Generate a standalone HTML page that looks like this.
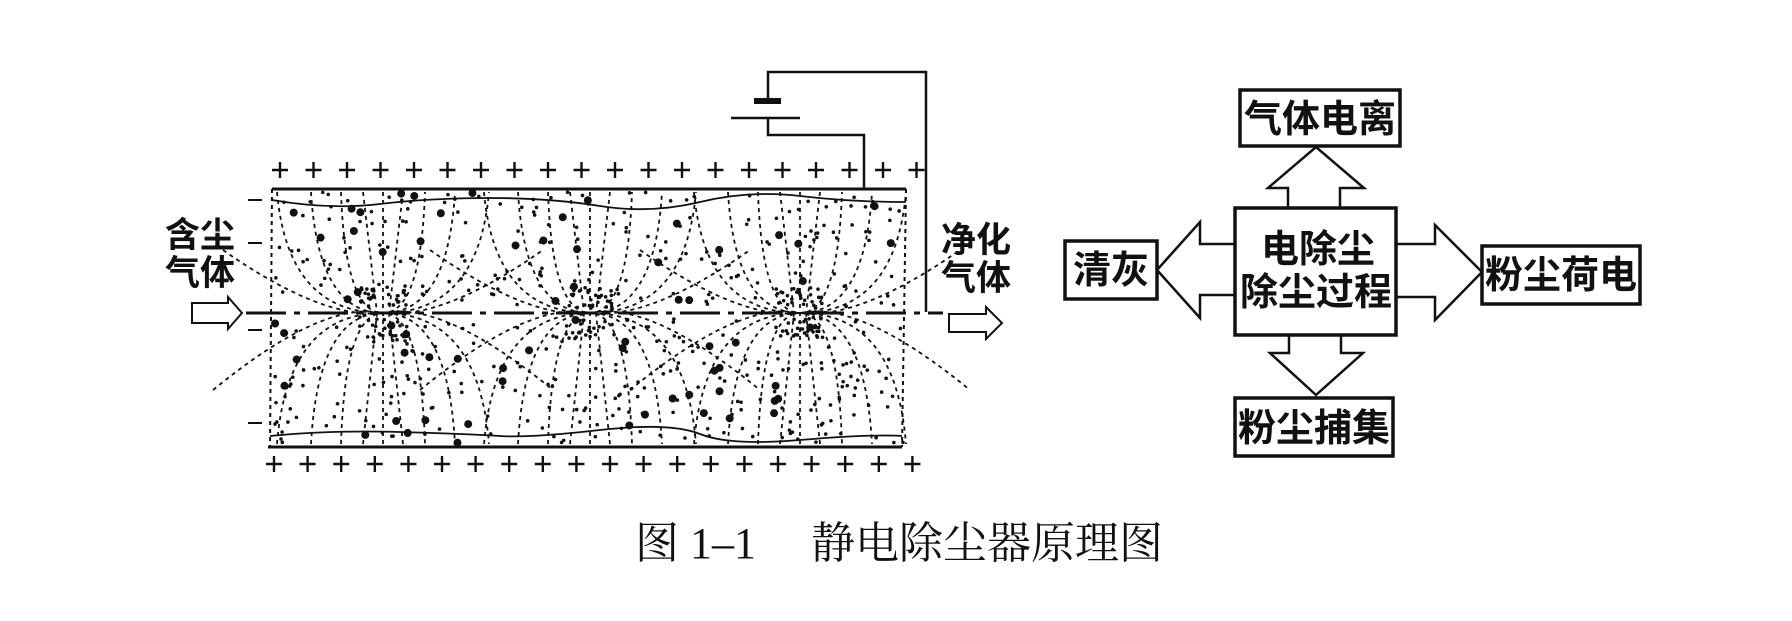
<!DOCTYPE html>
<html><head><meta charset="utf-8"><style>
html,body{margin:0;padding:0;background:#fff;}
svg{display:block;}
text{font-family:"Liberation Serif","Noto Serif CJK SC","Noto Sans CJK SC",serif;fill:#111;}
.b{font-family:"Liberation Sans","Noto Sans CJK SC",sans-serif;font-weight:bold;}
</style></head><body>
<svg id="s" width="1792" height="621" viewBox="0 0 1792 621" xmlns="http://www.w3.org/2000/svg">
<g stroke="#111" fill="none" stroke-width="2.5">
<polyline points="926,312 926,72 768,72 768,101"/>
<line x1="754" y1="101" x2="781" y2="101" stroke-width="6"/>
<line x1="731" y1="118" x2="800" y2="118"/>
<polyline points="768,118 768,135 864,135 864,190"/>
<line x1="272" y1="189" x2="906" y2="189" stroke-width="3"/>
<line x1="268" y1="447" x2="902" y2="447" stroke-width="3"/>
<line x1="272" y1="189" x2="270" y2="447" stroke-dasharray="4,4" stroke-width="2"/>
<line x1="906" y1="189" x2="902" y2="447" stroke-dasharray="4,4" stroke-width="2"/>
<path d="M272,200 Q330,210 380,204 T490,198 T600,206 T700,202 T800,196 T906,202" stroke-width="1.8"/>
<path d="M270,436 Q330,430 400,432 T500,436 T600,430 T700,434 T800,440 T902,436" stroke-width="1.8"/>
<line x1="246" y1="313" x2="943" y2="313" stroke-dasharray="40,8,6,8" stroke-width="3"/>
<polygon points="192,303 228,303 228,297 242,313 228,329 228,323 192,323" stroke-width="2"/>
<polygon points="949,314 986,314 986,307 1002,323 986,339 986,332 949,332" stroke-width="2"/>
</g>
<g id="curves" stroke="#111" fill="none" stroke-width="1.8" stroke-dasharray="4,4"></g>
<g id="dots" fill="#111"></g>
<g id="plus" stroke="#111" stroke-width="2.4"></g>
<g stroke="#111" stroke-width="2">
<line x1="248" y1="200" x2="262" y2="200"/><line x1="248" y1="243" x2="262" y2="243"/>
<line x1="248" y1="330" x2="262" y2="330"/><line x1="248" y1="423" x2="262" y2="423"/>
</g>
<g font-size="35" text-anchor="middle">
<text class="b" x="200" y="247">含尘</text>
<text class="b" x="200" y="285">气体</text>
<text class="b" x="976" y="252">净化</text>
<text class="b" x="976" y="290">气体</text>
</g>
<g stroke="#111" fill="#fff" stroke-width="3.5">
<rect x="1240" y="90" width="160" height="56"/>
<rect x="1235" y="208" width="161" height="127"/>
<rect x="1065" y="241" width="92" height="58"/>
<rect x="1482" y="246" width="158" height="58"/>
<rect x="1235" y="398" width="158" height="58"/>
</g>
<g stroke="#111" fill="none" stroke-width="2.5">
<polyline points="1288,208 1288,188 1268,188 1316,147 1364,188 1340,188 1340,208"/>
<polyline points="1235,244 1200,244 1200,222 1157,270 1200,318 1200,295 1235,295"/>
<polyline points="1396,244 1435,244 1435,225 1482,272 1435,320 1435,297 1396,297"/>
<polyline points="1289,335 1289,353 1270,353 1316,395 1363,353 1341,353 1341,335"/>
</g>
<g font-size="38" text-anchor="middle">
<text class="b" x="1320" y="132">气体电离</text>
<text class="b" x="1111" y="283">清灰</text>
<text class="b" x="1561" y="288">粉尘荷电</text>
<text class="b" x="1314" y="441">粉尘捕集</text>
<text class="b" x="1318" y="262">电除尘</text>
<text class="b" x="1316" y="305">除尘过程</text>
</g>
<text x="899" y="558" font-size="44" text-anchor="middle">图 1–1　 静电除尘器原理图</text>
<script>
var ns="http://www.w3.org/2000/svg";
var P=document.getElementById('plus'),C=document.getElementById('curves'),D=document.getElementById('dots');
function plus(x,y){var a=document.createElementNS(ns,'path');a.setAttribute('d','M'+(x-8)+','+y+'h16M'+x+','+(y-8)+'v16');P.appendChild(a);}
for(var i=0;i<20;i++){plus(280+i*33.5,170);plus(274+i*33.6,464);}
var cx=[383,590,800];
function path(d){var p=document.createElementNS(ns,'path');p.setAttribute('d',d);C.appendChild(p);}
cx.forEach(function(c){
 [106,72,42].forEach(function(w){
  path('M'+(c-w)+',192 Q'+(c-w*0.9)+',313 '+c+',313 Q'+(c+w*0.9)+',313 '+(c+w)+',192');
  path('M'+(c-w)+',444 Q'+(c-w*0.9)+',313 '+c+',313 Q'+(c+w*0.9)+',313 '+(c+w)+',444');
 });
 [-20,0,20].forEach(function(o){path('M'+(c+o)+',192 L'+(c+o*0.3)+',313');path('M'+(c+o)+',444 L'+(c+o*0.3)+',313');});
 path('M'+(c-160)+',250 Q'+(c-60)+',320 '+c+',313 Q'+(c+60)+',320 '+(c+160)+',250');
 path('M'+(c-170)+',390 Q'+(c-60)+',300 '+c+',313 Q'+(c+60)+',300 '+(c+170)+',390');
});
var seed=7;function r(){seed=(seed*16807)%2147483647;return seed/2147483647;}
for(var k=0;k<520;k++){var x=275+r()*628,y=192+r()*252;
 var near=Math.min.apply(null,cx.map(function(c){return Math.abs(x-c);}));
 var dy=Math.abs(y-313);
 if(near>110 && r()<0.8) continue;
 if(dy<6) continue;
 var e=document.createElementNS(ns,'circle');e.setAttribute('cx',x);e.setAttribute('cy',y);e.setAttribute('r',r()<0.12?4:1.8);D.appendChild(e);}
for(var k=0;k<160;k++){var c=cx[k%3],x=c+(r()-0.5)*50,y=313+(r()<0.5?-1:1)*(4+r()*22);
 var e=document.createElementNS(ns,'circle');e.setAttribute('cx',x);e.setAttribute('cy',y);e.setAttribute('r',1.8);D.appendChild(e);}
</script>
</svg>
</body></html>
